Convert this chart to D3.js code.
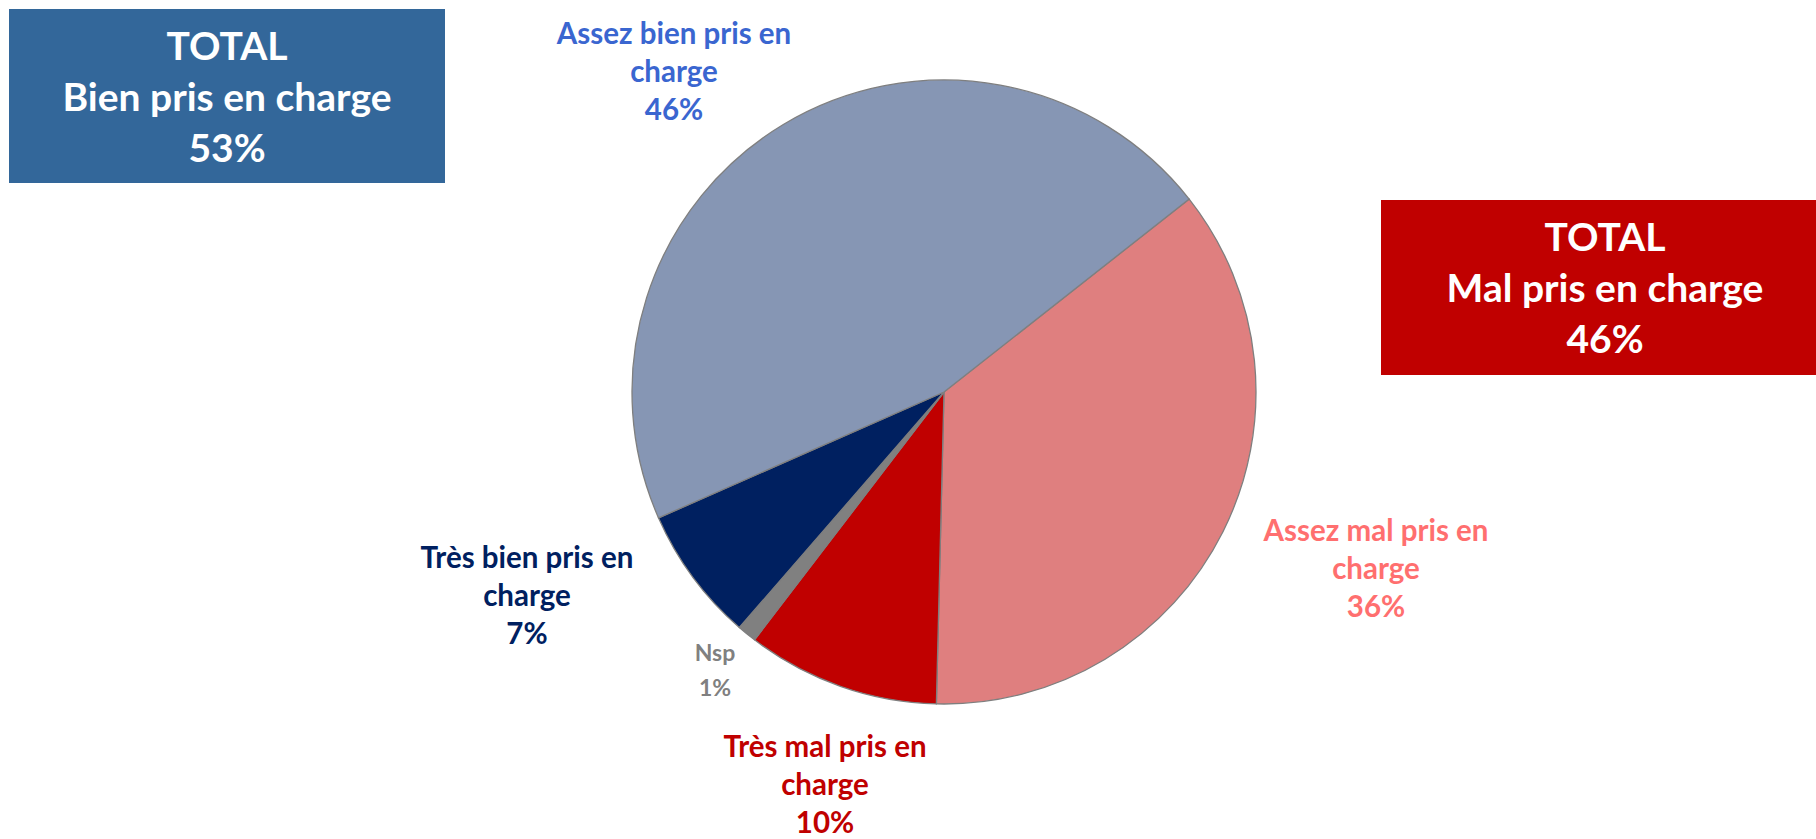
<!DOCTYPE html>
<html>
<head>
<meta charset="utf-8">
<script src="https://cdn.jsdelivr.net/npm/d3@7"></script>
<style>
  body { margin: 0; background: #fff; }
  svg { display: block; font-family: Lato, "Open Sans", sans-serif; font-weight: bold; }
</style>
</head>
<body>
<svg id="chart" width="1816" height="839"></svg>
<script>
// slices in drawing order, clockwise from the top right
var categories = ["Assez mal pris en charge", "Très mal pris en charge", "Nsp", "Très bien pris en charge", "Assez bien pris en charge"];
var values = [36, 10, 1, 7, 46];
var labelLines = [
  ["Assez mal pris en", "charge", "36%"],
  ["Très mal pris en", "charge", "10%"],
  ["Nsp", "1%"],
  ["Très bien pris en", "charge", "7%"],
  ["Assez bien pris en", "charge", "46%"]
];
var totalTitles = ["Bien pris en charge", "Mal pris en charge"];
var totalValues = ["53%", "46%"];

var sliceColours = ["#df7f7f", "#c00000", "#808080", "#002060", "#8696b4"];
var labelColours = ["#ff6f6f", "#c00000", "#808080", "#002060", "#3a66d0"];

// where each label block sits (first baseline) - picked by eye
var labelPos = [
  {x: 1376, y: 541}, {x: 825, y: 757}, {x: 715, y: 661}, {x: 527, y: 568}, {x: 674, y: 44}
];

var svg = d3.select("#chart");
var cx = 944, cy = 392, radius = 312;

var pie = d3.pie()
  .sort(null)
  .value(function(d) { return d; })
  .startAngle(51.8 * Math.PI / 180)
  .endAngle(51.8 * Math.PI / 180 + 2 * Math.PI);

var arc = d3.arc().innerRadius(0).outerRadius(radius);

svg.append("g")
  .attr("transform", "translate(" + cx + "," + cy + ")")
  .selectAll("path")
  .data(pie(values))
  .enter()
  .append("path")
  .attr("d", arc)
  .attr("fill", function(d, i) { return sliceColours[i]; })
  .attr("stroke", "#7f7f7f")
  .attr("stroke-width", 1.3);

// slice labels
labelLines.forEach(function(lines, i) {
  var small = lines.length == 2;
  var t = svg.append("text")
    .attr("text-anchor", "middle")
    .attr("fill", labelColours[i])
    .attr("font-size", small ? 23 : 29.5);
  lines.forEach(function(line, j) {
    t.append("tspan")
      .attr("x", labelPos[i].x)
      .attr("y", labelPos[i].y + j * (small ? 35 : 38))
      .text(line);
  });
});

// total boxes
var boxes = [
  {x: 9, y: 9, w: 436, h: 174, fill: "#33679a", tx: 227, ty: 60},
  {x: 1381, y: 200, w: 435, h: 175, fill: "#c00000", tx: 1605, ty: 251}
];

boxes.forEach(function(b, i) {
  svg.append("rect")
    .attr("x", b.x).attr("y", b.y)
    .attr("width", b.w).attr("height", b.h)
    .attr("fill", b.fill);
  var t = svg.append("text")
    .attr("text-anchor", "middle")
    .attr("fill", "#fff")
    .attr("font-size", 39);
  ["TOTAL", totalTitles[i], totalValues[i]].forEach(function(line, j) {
    t.append("tspan")
      .attr("x", b.tx)
      .attr("y", b.ty + j * 51)
      .text(line);
  });
});
</script>
</body>
</html>
